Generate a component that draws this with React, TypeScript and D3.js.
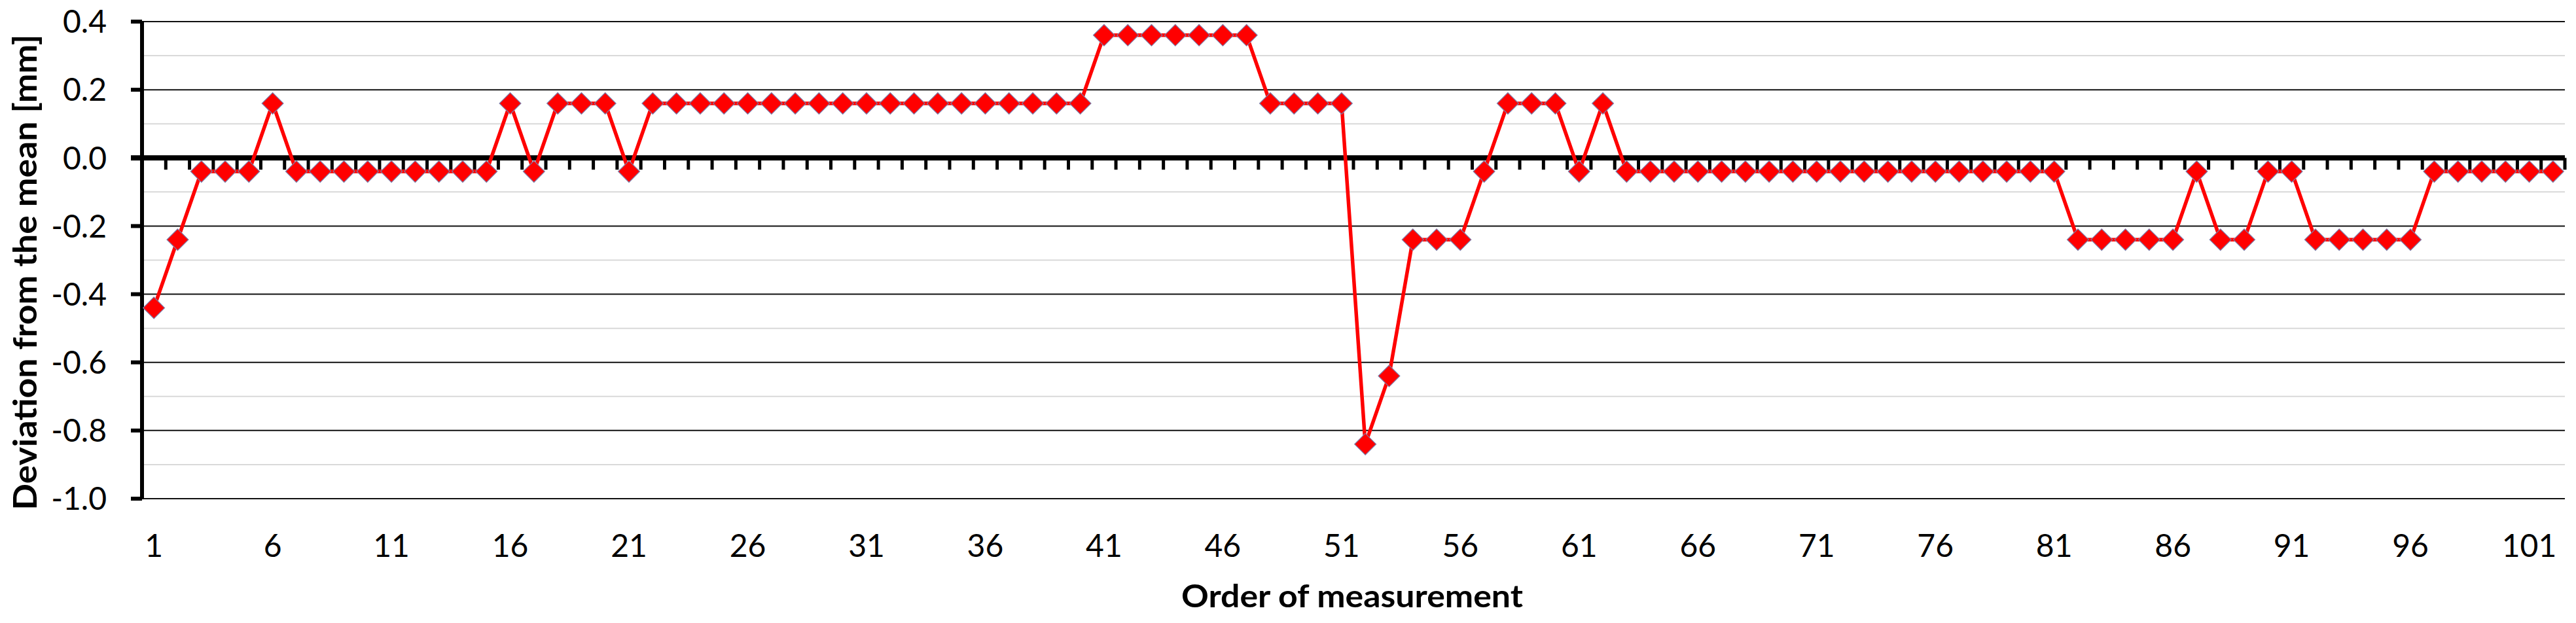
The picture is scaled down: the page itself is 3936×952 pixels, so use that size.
import React from "react";
import * as d3 from "d3";

// ---- data ----
const categories: number[] = d3.range(1, 103);
const deviation: number[] = [
  -0.44, -0.24, -0.04, -0.04, -0.04, 0.16, -0.04, -0.04, -0.04, -0.04,
  -0.04, -0.04, -0.04, -0.04, -0.04, 0.16, -0.04, 0.16, 0.16, 0.16,
  -0.04, 0.16, 0.16, 0.16, 0.16, 0.16, 0.16, 0.16, 0.16, 0.16,
  0.16, 0.16, 0.16, 0.16, 0.16, 0.16, 0.16, 0.16, 0.16, 0.16,
  0.36, 0.36, 0.36, 0.36, 0.36, 0.36, 0.36, 0.16, 0.16, 0.16,
  0.16, -0.84, -0.64, -0.24, -0.24, -0.24, -0.04, 0.16, 0.16, 0.16,
  -0.04, 0.16, -0.04, -0.04, -0.04, -0.04, -0.04, -0.04, -0.04, -0.04,
  -0.04, -0.04, -0.04, -0.04, -0.04, -0.04, -0.04, -0.04, -0.04, -0.04,
  -0.04, -0.24, -0.24, -0.24, -0.24, -0.24, -0.04, -0.24, -0.24, -0.04,
  -0.04, -0.24, -0.24, -0.24, -0.24, -0.24, -0.04, -0.04, -0.04, -0.04,
  -0.04, -0.04,
];
const xTickLabels: string[] = ["1", "6", "11", "16", "21", "26", "31", "36", "41", "46", "51", "56", "61", "66", "71", "76", "81", "86", "91", "96", "101"];
const yMajorTicks: number[] = [0.4, 0.2, 0.0, -0.2, -0.4, -0.6, -0.8, -1.0];
const yMinorTicks: number[] = [0.3, 0.1, -0.1, -0.3, -0.5, -0.7, -0.9];
const yTitle = "Deviation from the mean [mm]";
const xTitle = "Order of measurement";

const W = 3936;
const H = 952;
const FONT = "Lato, 'Open Sans', sans-serif";

const fmtY = (t: number) => d3.format(".1f")(t).replace("\u2212", "-");

export default function App() {
  const left = 217;
  const right = 3919;
  const top = 33;
  const bottom = 762;

  const x = d3.scaleBand<number>().domain(categories).range([left, right]).padding(0);
  const y = d3.scaleLinear().domain([-1.0, 0.4]).range([bottom, top]);
  const bw = x.bandwidth();
  const cx = (c: number) => (x(c) as number) + bw / 2;

  const pts: [number, number][] = categories.map((c, i) => [cx(c), y(deviation[i])]);
  const line = d3.line<[number, number]>().x((d) => d[0]).y((d) => d[1])(pts) || "";
  const diamond = d3.symbol().type(d3.symbolSquare).size(540)() || "";

  const y0 = y(0);
  const boundaries = d3.range(0, categories.length + 1).map((k) => left + k * bw);

  return (
    <svg
      width={W}
      height={H}
      style={{ position: "absolute", left: 0, top: 0, background: "#fff" }}
      xmlns="http://www.w3.org/2000/svg"
    >
      <rect x={0} y={0} width={W} height={H} fill="#fff" />
      {/* minor gridlines */}
      {yMinorTicks.map((t) => (
        <line key={"mi" + t} x1={left} x2={right} y1={y(t)} y2={y(t)} stroke="#d9d9d9" strokeWidth={2} />
      ))}
      {/* major gridlines */}
      {yMajorTicks.filter((t) => t !== 0).map((t) => (
        <line key={"ma" + t} x1={left} x2={right} y1={y(t)} y2={y(t)} stroke="#111" strokeWidth={2} />
      ))}
      {/* y axis */}
      <line x1={left} x2={left} y1={top - 1} y2={bottom + 1} stroke="#000" strokeWidth={6} />
      {yMajorTicks.map((t) => (
        <line key={"yt" + t} x1={left - 17} x2={left} y1={y(t)} y2={y(t)} stroke="#000" strokeWidth={6} />
      ))}
      {yMajorTicks.map((t) => (
        <text
          key={"yl" + t}
          x={163}
          y={y(t)}
          dy="0.36em"
          textAnchor="end"
          fontFamily={FONT}
          fontSize={48}
          fill="#000"
        >
          {fmtY(t)}
        </text>
      ))}
      {/* x axis at 0 */}
      <line x1={left - 17} x2={right} y1={y0} y2={y0} stroke="#000" strokeWidth={8} />
      {boundaries.map((bx, k) => (
        <line key={"xt" + k} x1={bx} x2={bx} y1={y0} y2={y0 + 18} stroke="#000" strokeWidth={5} />
      ))}
      {/* x tick labels */}
      {xTickLabels.map((lab) => (
        <text
          key={"xl" + lab}
          x={cx(+lab)}
          y={851}
          textAnchor="middle"
          fontFamily={FONT}
          fontSize={48}
          fill="#000"
        >
          {lab}
        </text>
      ))}
      {/* series */}
      <path d={line} fill="none" stroke="#ff0000" strokeWidth={5.5} strokeLinejoin="round" />
      {pts.map((p, i) => (
        <path
          key={"m" + i}
          d={diamond}
          transform={`translate(${p[0]},${p[1]}) rotate(45)`}
          fill="#ff0000"
          stroke="#7c7ca8"
          strokeWidth={1.2}
        />
      ))}
      {/* titles */}
      <text
        x={2066}
        y={928}
        textAnchor="middle"
        fontFamily={FONT}
        fontWeight="bold"
        fontSize={48}
        textLength={522}
        lengthAdjust="spacingAndGlyphs"
        fill="#000"
      >
        {xTitle}
      </text>
      <text
        transform="translate(56,416) rotate(-90)"
        textAnchor="middle"
        fontFamily={FONT}
        fontWeight="bold"
        fontSize={49}
        textLength={727}
        lengthAdjust="spacingAndGlyphs"
        fill="#000"
      >
        {yTitle}
      </text>
    </svg>
  );
}
